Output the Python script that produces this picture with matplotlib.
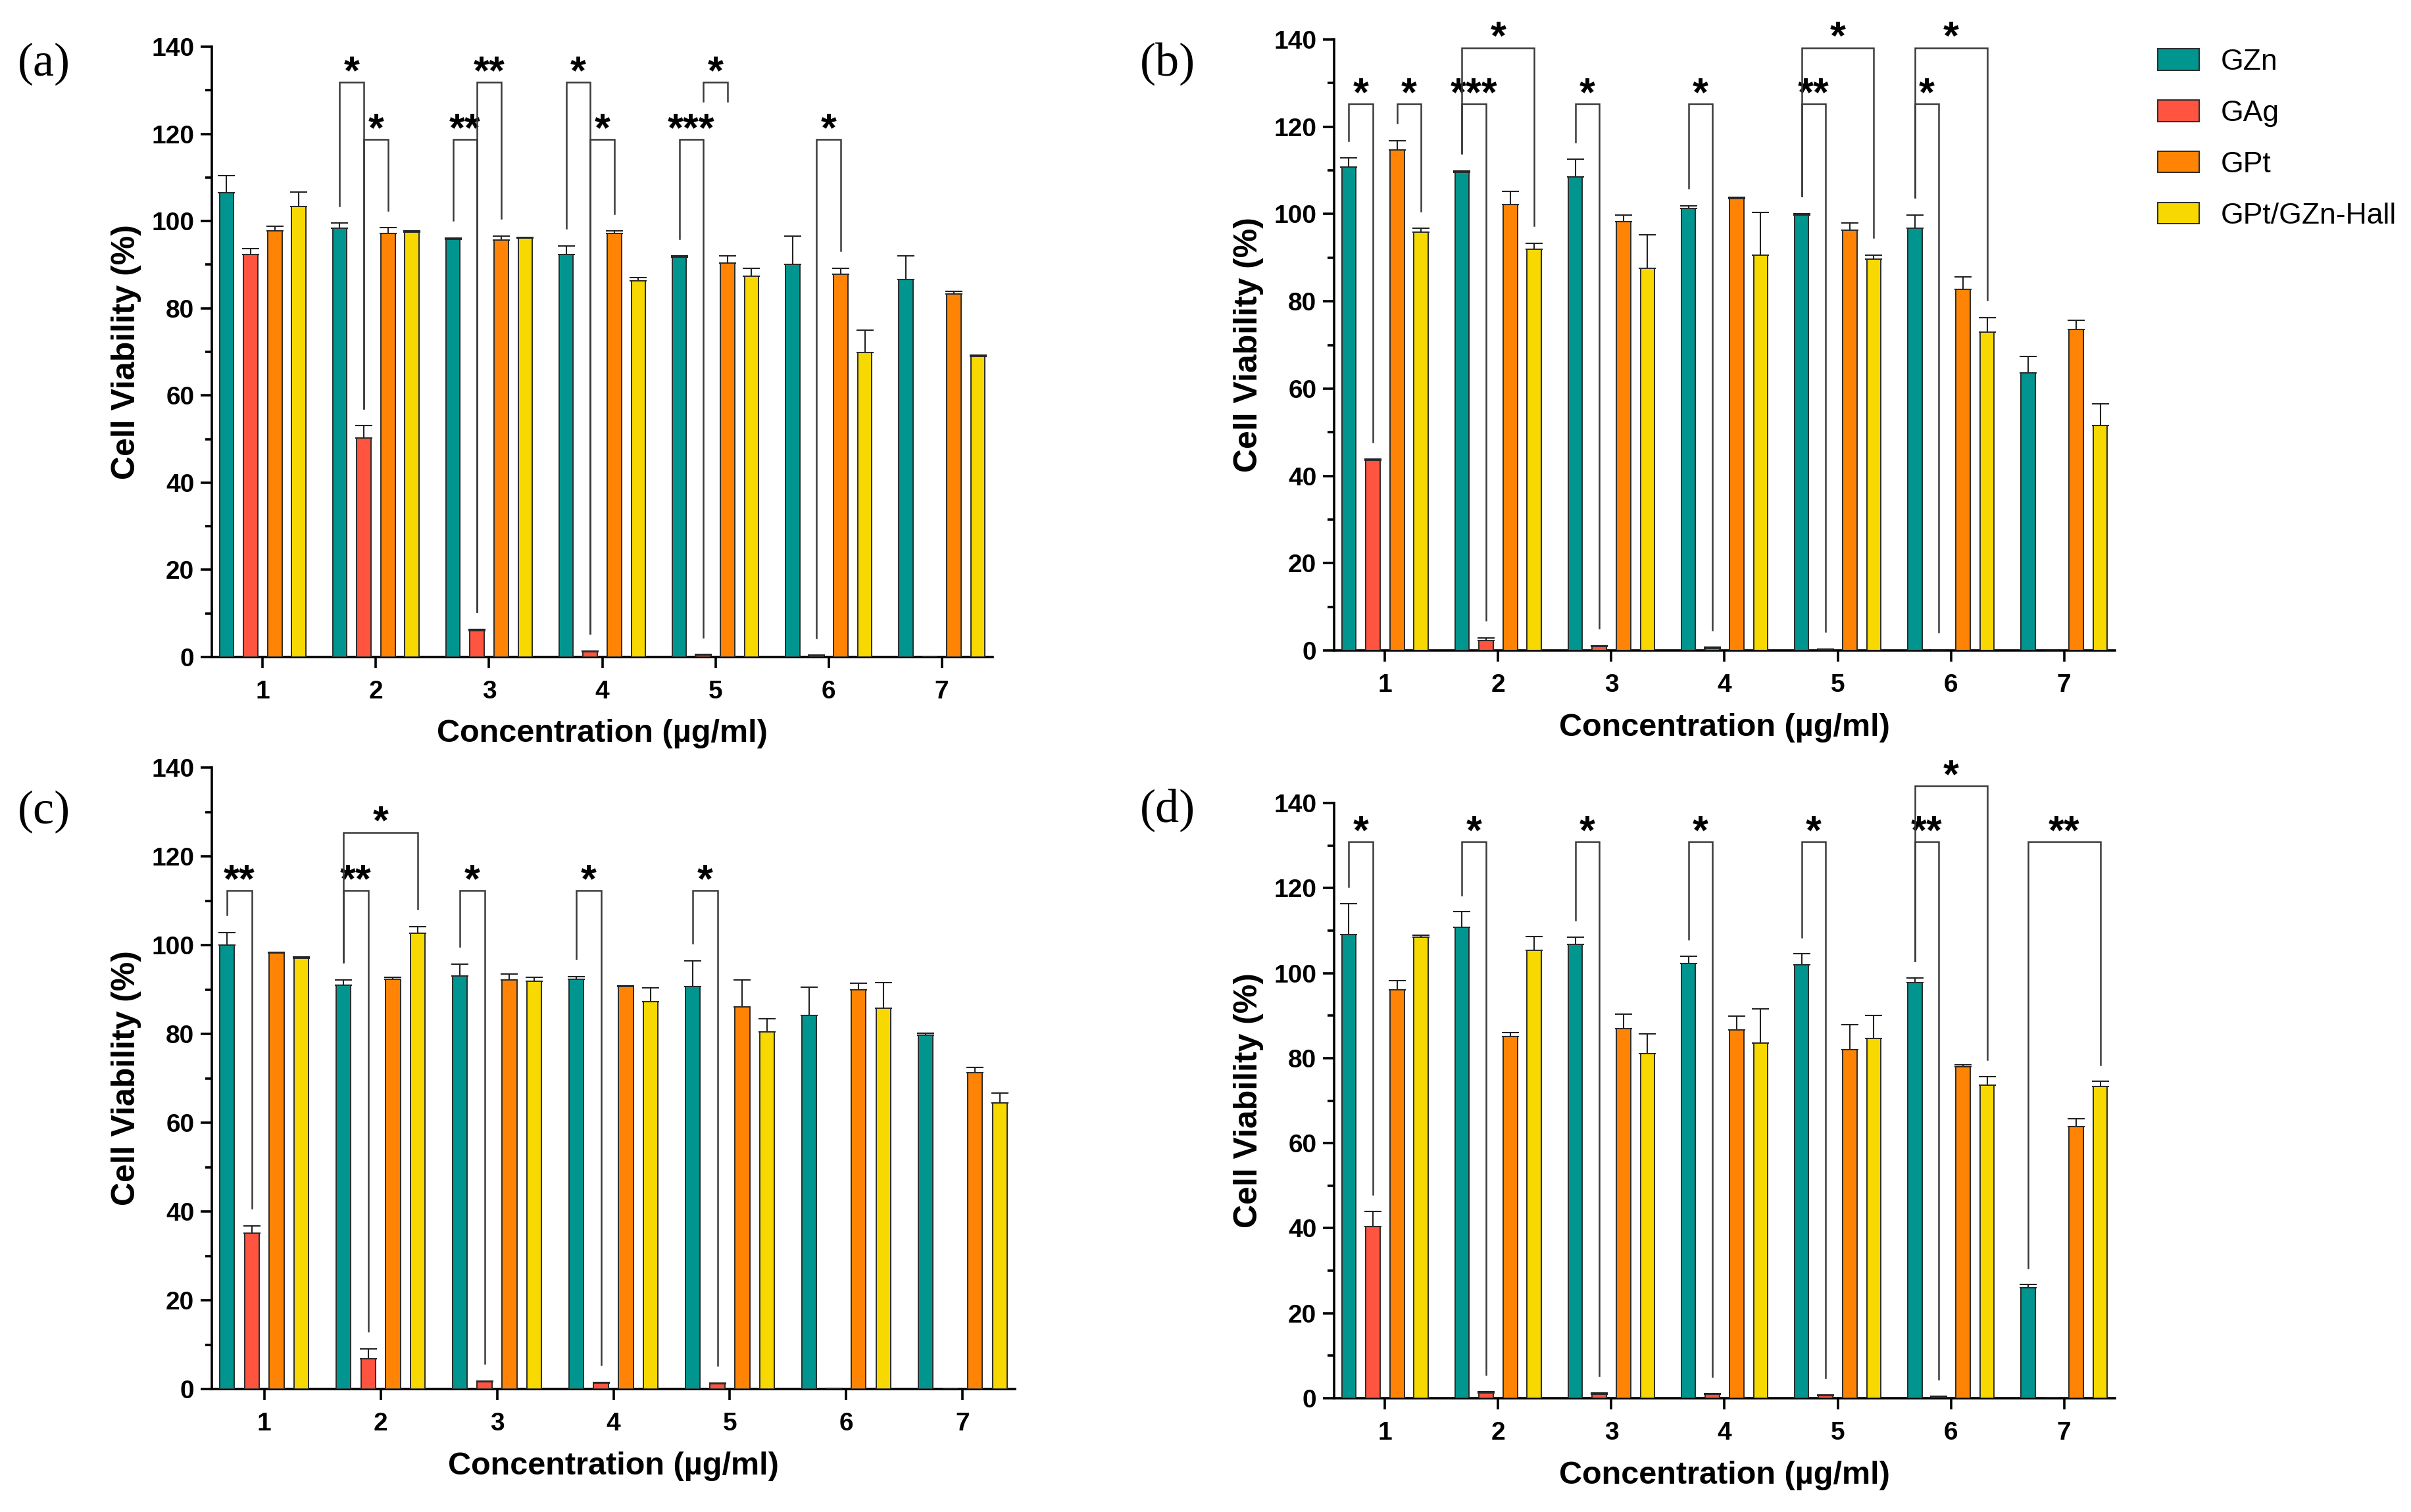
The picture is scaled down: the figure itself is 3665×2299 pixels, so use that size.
"""Cell viability bar charts, four panels (a)-(d), with significance brackets."""
import matplotlib
matplotlib.use("Agg")
import matplotlib.pyplot as plt
from matplotlib.ticker import MultipleLocator
import numpy as np

plt.rcParams["font.family"] = ["Liberation Sans", "DejaVu Sans"]

# ---------------------------------------------------------------------------
# Data
# ---------------------------------------------------------------------------
concentrations = [1, 2, 3, 4, 5, 6, 7]
series = ["GZn", "GAg", "GPt", "GPt/GZn-Hall"]
colors = ["#00968f", "#ff5440", "#ff8405", "#f7d800"]

# panel (a)
a_gzn = [106.5, 98.4, 95.8, 92.3, 91.7, 90.1, 86.6]
a_gag = [92.3, 50.3, 6.0, 1.2, 0.4, 0.3, 0.0]
a_gpt = [97.8, 97.1, 95.7, 97.1, 90.3, 87.8, 83.3]
a_hall = [103.4, 97.5, 96.1, 86.3, 87.3, 69.8, 68.9]
a_gzn_err = [3.9, 1.1, 0.3, 2.0, 0.3, 6.5, 5.5]
a_gag_err = [1.4, 2.8, 0.4, 0.2, 0.2, 0.1, 0.0]
a_gpt_err = [1.0, 1.4, 0.9, 0.6, 1.8, 1.4, 0.6]
a_hall_err = [3.2, 0.2, 0.1, 0.8, 1.8, 5.2, 0.4]

# panel (b)
b_gzn = [110.8, 109.5, 108.5, 101.2, 99.8, 96.7, 63.6]
b_gag = [43.6, 2.3, 0.9, 0.5, 0.2, 0.1, 0.0]
b_gpt = [114.7, 102.1, 98.3, 103.5, 96.3, 82.7, 73.6]
b_hall = [95.9, 91.9, 87.5, 90.6, 89.7, 72.9, 51.6]
b_gzn_err = [2.0, 0.4, 4.0, 0.7, 0.3, 3.1, 3.8]
b_gag_err = [0.2, 0.6, 0.2, 0.2, 0.1, 0.1, 0.0]
b_gpt_err = [2.1, 3.1, 1.5, 0.3, 1.6, 2.9, 2.1]
b_hall_err = [0.8, 1.4, 7.8, 9.8, 0.9, 3.4, 4.9]

# panel (c)
c_gzn = [100.0, 91.0, 93.0, 92.3, 90.7, 84.1, 79.7]
c_gag = [35.1, 6.8, 1.6, 1.4, 1.2, 0.1, 0.0]
c_gpt = [98.2, 92.3, 92.1, 90.6, 86.1, 90.0, 71.3]
c_hall = [97.1, 102.6, 91.8, 87.3, 80.5, 85.8, 64.4]
c_gzn_err = [2.8, 1.1, 2.7, 0.6, 5.7, 6.4, 0.5]
c_gag_err = [1.6, 2.2, 0.2, 0.1, 0.2, 0.0, 0.0]
c_gpt_err = [0.2, 0.4, 1.4, 0.2, 6.1, 1.4, 1.2]
c_hall_err = [0.3, 1.6, 0.9, 3.0, 2.9, 5.8, 2.2]

# panel (d)
d_gzn = [109.0, 110.8, 106.8, 102.2, 101.9, 97.8, 26.0]
d_gag = [40.4, 1.2, 1.0, 0.9, 0.6, 0.2, 0.0]
d_gpt = [96.0, 85.1, 86.9, 86.7, 82.0, 77.9, 63.9]
d_hall = [108.4, 105.4, 81.1, 83.6, 84.6, 73.7, 73.3]
d_gzn_err = [7.3, 3.6, 1.7, 1.8, 2.6, 1.1, 0.7]
d_gag_err = [3.5, 0.4, 0.2, 0.2, 0.2, 0.3, 0.0]
d_gpt_err = [2.3, 0.9, 3.5, 3.2, 5.9, 0.6, 1.9]
d_hall_err = [0.5, 3.2, 4.6, 8.0, 5.4, 1.9, 1.2]

# significance: (concentration, series i, series j, tier 0=lower/1=upper, label)
a_sig = [(2, 0, 1, 1, "*"), (2, 1, 2, 0, "*"), (3, 0, 1, 0, "**"), (3, 1, 2, 1, "**"),
         (4, 0, 1, 1, "*"), (4, 1, 2, 0, "*"), (5, 0, 1, 0, "***"), (5, 1, 2, 1, "*"),
         (6, 1, 2, 0, "*")]
b_sig = [(1, 0, 1, 0, "*"), (1, 2, 3, 0, "*"), (2, 0, 1, 0, "***"), (2, 0, 3, 1, "*"),
         (3, 0, 1, 0, "*"), (4, 0, 1, 0, "*"), (5, 0, 1, 0, "**"), (5, 0, 3, 1, "*"),
         (6, 0, 1, 0, "*"), (6, 0, 3, 1, "*")]
c_sig = [(1, 0, 1, 0, "**"), (2, 0, 1, 0, "**"), (2, 0, 3, 1, "*"), (3, 0, 1, 0, "*"),
         (4, 0, 1, 0, "*"), (5, 0, 1, 0, "*")]
d_sig = [(1, 0, 1, 0, "*"), (2, 0, 1, 0, "*"), (3, 0, 1, 0, "*"), (4, 0, 1, 0, "*"),
         (5, 0, 1, 0, "*"), (6, 0, 1, 0, "**"), (6, 0, 3, 1, "*"), (7, 0, 3, 0, "**")]

# ---------------------------------------------------------------------------
# Layout (pixels of the 3666 x 2299 output)
# ---------------------------------------------------------------------------
W, H = 3666, 2299
fig = plt.figure(figsize=(W / 100, H / 100), dpi=100)

BAR_STEP = 0.213
BAR_W = 0.127
EDGE = "#2b2b2b"
LEG_GAP = 4.0      # gap between bar/error top and bracket leg
SHORT_LEG = 4.3    # brackets drawn with short legs only


def add_axes_px(left, bottom, width, height):
    return fig.add_axes([left / W, 1 - bottom / H, width / W, height / H])


def draw_panel(ax, means, errs, sig, levels, size_px, short=()):
    n = len(concentrations)
    x = np.array(concentrations, dtype=float)
    offs = (np.arange(len(series)) - 1.5) * BAR_STEP
    tops = []
    for k, name in enumerate(series):
        m = np.array(means[k])
        e = np.array(errs[k])
        xs = x + offs[k]
        ax.errorbar(xs, m, yerr=[np.zeros(n), e], fmt="none", ecolor="#222222",
                    elinewidth=1.5, capsize=9.4, capthick=1.5, zorder=2)
        ax.bar(xs, m, width=BAR_W, color=colors[k], edgecolor=EDGE,
               linewidth=1.4, zorder=3, label=name)
        tops.append(m + e)

    # significance brackets
    for g, i, j, tier, label in sig:
        lv = levels[tier]
        xi, xj = g + offs[i], g + offs[j]
        if (g, i, j) in short:
            yi = yj = lv - SHORT_LEG
        else:
            yi, yj = tops[i][g - 1] + LEG_GAP, tops[j][g - 1] + LEG_GAP
        ax.plot([xi, xi, xj, xj], [yi, lv, lv, yj], color="#3a3a3a", lw=1.8,
                clip_on=False, zorder=4, solid_joinstyle="miter")
        ax.text((xi + xj) / 2, lv - 0.3, label, ha="center", va="baseline",
                fontsize=44, fontweight="bold", clip_on=False)

    ax.set_xlim(0.55, 7.45)
    ax.set_ylim(0, 140)
    ax.spines[["top", "right"]].set_visible(False)
    ax.spines[["left", "bottom"]].set_linewidth(2.6)
    ax.set_xticks(concentrations)
    ax.yaxis.set_major_locator(MultipleLocator(20))
    ax.yaxis.set_minor_locator(MultipleLocator(10))
    ax.tick_params(axis="both", which="major", direction="out", length=12.2,
                   width=2.6, labelsize=28)
    ax.tick_params(axis="y", which="minor", direction="out", length=7.2, width=2.6)
    ax.tick_params(axis="x", pad=13)
    ax.tick_params(axis="y", pad=7)
    plt.setp(ax.get_xticklabels() + ax.get_yticklabels(), fontweight="bold")

    w_px, h_px = size_px
    ax.set_ylabel("Cell Viability (%)", fontsize=36, fontweight="bold", va="center")
    ax.yaxis.set_label_coords(-130 / w_px, 0.5)
    ax.set_xlabel("Concentration (µg/ml)", fontsize=35, fontweight="bold", va="center")
    ax.xaxis.set_label_coords(0.5, -117 / h_px)


panels = [
    ("(a)", (322, 999, 1187, 928), (67, 97),
     [a_gzn, a_gag, a_gpt, a_hall], [a_gzn_err, a_gag_err, a_gpt_err, a_hall_err],
     a_sig, (118.7, 131.8), {(5, 1, 2)}),
    ("(b)", (2028, 989, 1187, 929), (1775, 97),
     [b_gzn, b_gag, b_gpt, b_hall], [b_gzn_err, b_gag_err, b_gpt_err, b_hall_err],
     b_sig, (125.2, 138.1), set()),
    ("(c)", (322, 2112, 1221, 945), (67, 1234),
     [c_gzn, c_gag, c_gpt, c_hall], [c_gzn_err, c_gag_err, c_gpt_err, c_hall_err],
     c_sig, (112.3, 125.4), set()),
    ("(d)", (2028, 2126, 1187, 905), (1775, 1232),
     [d_gzn, d_gag, d_gpt, d_hall], [d_gzn_err, d_gag_err, d_gpt_err, d_hall_err],
     d_sig, (130.9, 144.0), set()),
]

axes = []
for tag, box, tag_xy, means, errs, sig, levels, short in panels:
    ax = add_axes_px(*box)
    draw_panel(ax, means, errs, sig, levels, (box[2], box[3]), short)
    fig.text(tag_xy[0] / W, 1 - tag_xy[1] / H, tag, family="Liberation Serif",
             fontsize=52, ha="center", va="center")
    axes.append(ax)

# legend to the right of panel (b)
handles, labels = axes[1].get_legend_handles_labels()
fig.legend(handles, labels, loc="upper left", bbox_to_anchor=(3280 / W, 1 - 74 / H),
           frameon=False, fontsize=32, handlelength=1.42, handleheight=0.74,
           handletextpad=0.74, labelspacing=0.83, borderpad=0, borderaxespad=0)

fig.savefig("out.png", dpi=100)
plt.close(fig)
